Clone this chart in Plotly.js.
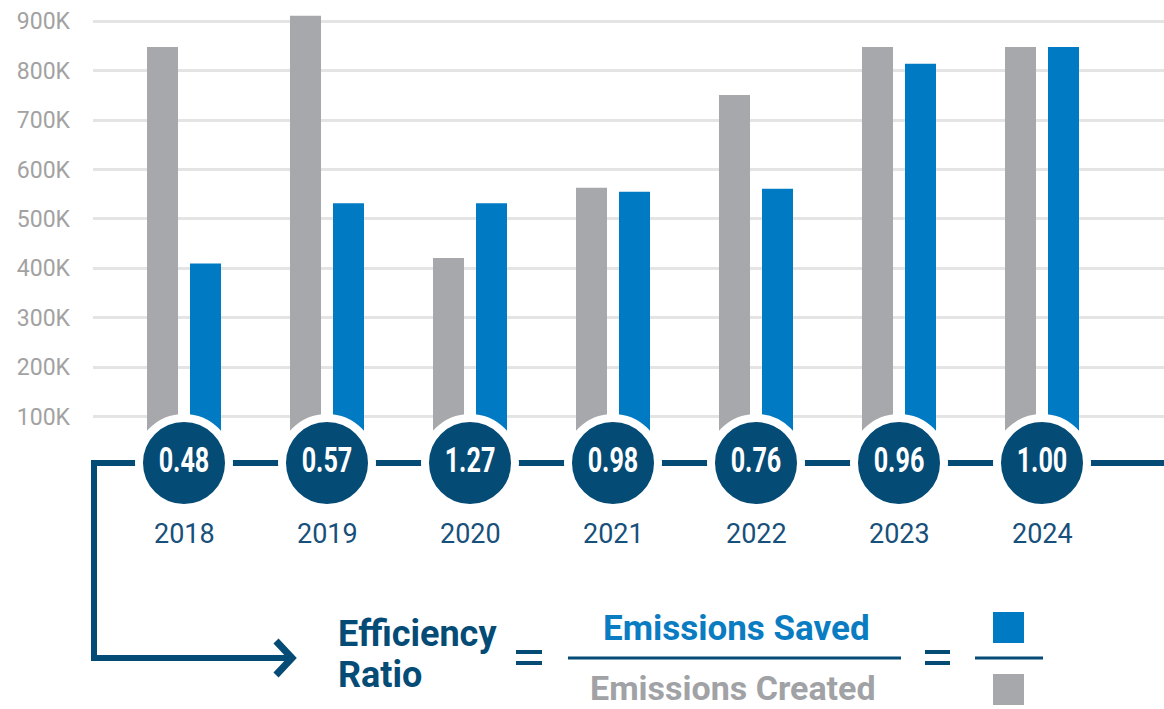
<!DOCTYPE html>
<html>
<head>
<meta charset="utf-8">
<script src="https://cdn.plot.ly/plotly-3.0.1.min.js"></script>
<style>
html,body{margin:0;padding:0;background:#fff;}
#chart{width:1164px;height:709px;}
/* condense the ratio labels inside the circles */
#chart .scatterlayer .textpoint text{
  transform-box: fill-box;
  transform-origin: center;
  transform: scaleX(0.72);
}
</style>
</head>
<body>
<div id="chart"></div>
<script>
// ---- data ----
var years = ['2018', '2019', '2020', '2021', '2022', '2023', '2024'];
var emissionsCreated = [848000, 911000, 421000, 563000, 751000, 848000, 848000];
var emissionsSaved = [410000, 532000, 532000, 555000, 561000, 814000, 848000];
var ratioLabels = ['0.48', '0.57', '1.27', '0.98', '0.76', '0.96', '1.00'];
var yTickVals = [100000, 200000, 300000, 400000, 500000, 600000, 700000, 800000, 900000];
var yTickText = ['100K', '200K', '300K', '400K', '500K', '600K', '700K', '800K', '900K'];

// ---- layout helpers ----
var W = 1164, H = 709, L = 93, R = 0;
var PW = W - L - R;
function X(px) { return (px - L) / PW; }
function Y(py) { return (H - py) / H; }
var ppu = 49.43 / 100000;           // pixels per unit on y
var zeroPx = 466.1;
var yRange = [-(H - zeroPx) / ppu, zeroPx / ppu];
var xRange = [-(184 - L) / 143, 6 + (W - 1042) / 143];
var xs = years.map(function (_, i) { return i; });
var u = 1 / 143;

var GRAY = '#a7a8ab', BLUE = '#007bc3', NAVY = '#044b76';
var FONT = 'Roboto, "Open Sans", sans-serif';

var traces = [
  {
    type: 'bar', x: xs, y: emissionsCreated, name: 'Emissions Created',
    marker: { color: GRAY }, width: 31 * u, offset: -37 * u, hoverinfo: 'skip'
  },
  {
    type: 'bar', x: xs, y: emissionsSaved, name: 'Emissions Saved',
    marker: { color: BLUE }, width: 31 * u, offset: 6 * u, hoverinfo: 'skip'
  },
  {
    type: 'scatter', mode: 'markers+text', x: xs,
    y: xs.map(function () { return (zeroPx - 463) / ppu; }),
    text: ratioLabels, textposition: 'middle center',
    textfont: { family: FONT, size: 35, color: '#ffffff', weight: 700 },
    marker: { size: 90, color: NAVY, line: { color: '#ffffff', width: 8 } },
    cliponaxis: false, hoverinfo: 'skip'
  }
];

var shapes = [
  // main horizontal line
  { type: 'line', xref: 'paper', yref: 'paper', x0: X(91), x1: X(1164), y0: Y(463), y1: Y(463),
    line: { color: NAVY, width: 6 }, layer: 'below' },
  // L-shaped connector
  { type: 'path', xref: 'paper', yref: 'paper',
    path: 'M ' + X(94) + ',' + Y(460) + ' L ' + X(94) + ',' + Y(658) + ' L ' + X(291) + ',' + Y(658),
    line: { color: NAVY, width: 6 }, layer: 'below' },
  // arrow head
  { type: 'path', xref: 'paper', yref: 'paper',
    path: 'M ' + X(276) + ',' + Y(641) + ' L ' + X(292) + ',' + Y(658) + ' L ' + X(276) + ',' + Y(675),
    line: { color: NAVY, width: 7 }, layer: 'below' },
  // fraction bars
  { type: 'line', xref: 'paper', yref: 'paper', x0: X(568), x1: X(901), y0: Y(658), y1: Y(658),
    line: { color: NAVY, width: 3 } },
  { type: 'line', xref: 'paper', yref: 'paper', x0: X(975), x1: X(1043), y0: Y(658), y1: Y(658),
    line: { color: NAVY, width: 3 } },
  // equal signs
  { type: 'line', xref: 'paper', yref: 'paper', x0: X(516), x1: X(542), y0: Y(652), y1: Y(652),
    line: { color: NAVY, width: 4 } },
  { type: 'line', xref: 'paper', yref: 'paper', x0: X(516), x1: X(542), y0: Y(663), y1: Y(663),
    line: { color: NAVY, width: 4 } },
  { type: 'line', xref: 'paper', yref: 'paper', x0: X(925), x1: X(950), y0: Y(652), y1: Y(652),
    line: { color: NAVY, width: 4 } },
  { type: 'line', xref: 'paper', yref: 'paper', x0: X(925), x1: X(950), y0: Y(663), y1: Y(663),
    line: { color: NAVY, width: 4 } },
  // legend squares
  { type: 'rect', xref: 'paper', yref: 'paper', x0: X(993), x1: X(1024), y0: Y(643), y1: Y(612),
    fillcolor: BLUE, line: { width: 0 } },
  { type: 'rect', xref: 'paper', yref: 'paper', x0: X(993), x1: X(1024), y0: Y(705), y1: Y(674),
    fillcolor: GRAY, line: { width: 0 } }
];

var annotations = years.map(function (yr, i) {
  return { xref: 'x', yref: 'paper', x: i, y: Y(534), text: yr, showarrow: false,
    xanchor: 'center', yanchor: 'middle',
    font: { family: FONT, size: 27, color: '#17507b' } };
});
annotations.push(
  { xref: 'paper', yref: 'paper', x: X(336), y: Y(633.5), text: 'Efficiency', showarrow: false,
    xanchor: 'left', yanchor: 'middle', font: { family: FONT, size: 36, color: NAVY, weight: 700 } },
  { xref: 'paper', yref: 'paper', x: X(336), y: Y(675), text: 'Ratio', showarrow: false,
    xanchor: 'left', yanchor: 'middle', font: { family: FONT, size: 36, color: NAVY, weight: 700 } },
  { xref: 'paper', yref: 'paper', x: X(736.5), y: Y(628.5), text: 'Emissions Saved', showarrow: false,
    xanchor: 'center', yanchor: 'middle', font: { family: FONT, size: 35, color: '#0a7cc2', weight: 700 } },
  { xref: 'paper', yref: 'paper', x: X(732.5), y: Y(688), text: 'Emissions Created', showarrow: false,
    xanchor: 'center', yanchor: 'middle', font: { family: FONT, size: 34, color: '#a1a2a5', weight: 700 } }
);

var layout = {
  width: W, height: H,
  margin: { l: L, r: R, t: 0, b: 0, pad: 0 },
  paper_bgcolor: '#ffffff', plot_bgcolor: 'rgba(0,0,0,0)',
  showlegend: false, barmode: 'overlay',
  xaxis: { range: xRange, visible: false, fixedrange: true },
  yaxis: {
    range: yRange, tickvals: yTickVals, ticktext: yTickText,
    showgrid: true, gridcolor: '#e4e4e4', gridwidth: 3,
    zeroline: false, showline: false, ticks: '',
    ticklabelstandoff: 22,
    tickfont: { family: FONT, size: 23, color: '#a2a2a2' }, fixedrange: true
  },
  shapes: shapes, annotations: annotations,
  font: { family: FONT }
};

Plotly.newPlot('chart', traces, layout, { displayModeBar: false, staticPlot: true });
</script>
</body>
</html>
